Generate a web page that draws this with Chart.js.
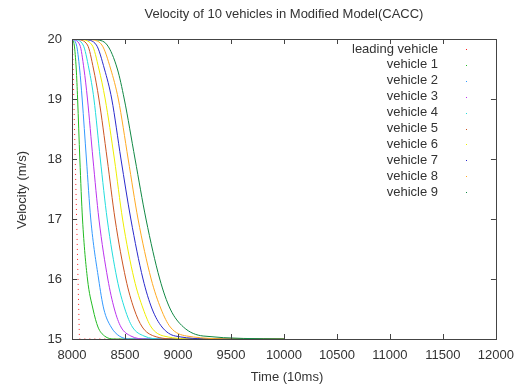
<!DOCTYPE html>
<html lang="en">
<head>
  <meta charset="UTF-8" />
  <title>Velocity of 10 vehicles</title>
  <script src="https://cdn.jsdelivr.net/npm/chart.js"></script>
  <style>
    html, body { margin: 0; padding: 0; background: #fff; }
    #wrap { width: 523px; height: 387px; }
  </style>
</head>
<body>
  <div id="wrap"><canvas id="velChart"></canvas></div>

  <script>
    // velocity levels (m/s) at which each vehicle's time was read
    const speedLevels = [20, 19.9, 19.5, 19, 18, 17, 16, 15.5, 15.2, 15.05, 15];

    // time (10ms) of each vehicle at the levels above
    const v1Time = [8000, 8021, 8040, 8053, 8074, 8099, 8146, 8198, 8245, 8307, 8400];
    const v2Time = [8000, 8042, 8072, 8096, 8136, 8177, 8251, 8300, 8369, 8446, 8550];
    const v3Time = [8000, 8074, 8113, 8146, 8198, 8254, 8338, 8400, 8462, 8555, 8700];
    const v4Time = [8019, 8105, 8160, 8207, 8267, 8332, 8425, 8499, 8570, 8679, 8850];
    const v5Time = [8046, 8146, 8203, 8254, 8332, 8406, 8508, 8586, 8663, 8772, 9000];
    const v6Time = [8074, 8189, 8254, 8313, 8400, 8477, 8586, 8672, 8747, 8865, 9200];
    const v7Time = [8121, 8230, 8306, 8375, 8462, 8555, 8670, 8756, 8849, 8974, 9400];
    const v8Time = [8167, 8282, 8365, 8437, 8530, 8623, 8747, 8840, 8927, 9082, 9600];
    const v9Time = [8214, 8332, 8428, 8493, 8595, 8698, 8828, 8927, 9051, 9237, 10000];

    const leadTime = [8004, 8070];
    const leadSpeed = [20, 15];
    const tailEnd = 10000;

    const xTicks = [8000, 8500, 9000, 9500, 10000, 10500, 11000, 11500, 12000];
    const yTicks = [15, 16, 17, 18, 19, 20];

    const names = ['leading vehicle', 'vehicle 1', 'vehicle 2', 'vehicle 3', 'vehicle 4',
                   'vehicle 5', 'vehicle 6', 'vehicle 7', 'vehicle 8', 'vehicle 9'];
    const colors = ['#ff2020', '#22bb22', '#3399ff', '#bb33ee', '#22dddd',
                    '#cc5522', '#eeee00', '#2a2acc', '#ffaa22', '#118844'];

    const followers = [v1Time, v2Time, v3Time, v4Time, v5Time, v6Time, v7Time, v8Time, v9Time];

    const font = "'Liberation Sans', Arial, sans-serif";

    function toPoints(times, speeds) {
      const pts = times.map((t, i) => ({ x: t, y: speeds[i] }));
      if (times[times.length - 1] < tailEnd) pts.push({ x: tailEnd, y: speeds[speeds.length - 1] });
      return pts;
    }

    const datasets = [{
      label: names[0],
      data: toPoints(leadTime, leadSpeed),
      borderColor: colors[0],
      borderWidth: 1,
      borderDash: [1, 4],
      pointRadius: 0,
      order: 10,
    }];

    followers.forEach((times, i) => {
      datasets.push({
        label: names[i + 1],
        data: toPoints(times, speedLevels),
        borderColor: colors[i + 1],
        borderWidth: 1,
        pointRadius: 0,
        cubicInterpolationMode: 'monotone',
        order: 9 - i,
      });
    });

    // gnuplot-like frame, inward ticks, titles and legend
    const gnuplotLook = {
      id: 'gnuplotLook',
      afterDraw(chart) {
        const ctx = chart.ctx;
        const a = chart.chartArea;
        const xs = chart.scales.x;
        const ys = chart.scales.y;
        ctx.save();

        ctx.strokeStyle = '#444';
        ctx.lineWidth = 1;
        ctx.strokeRect(Math.round(a.left) + 0.5, Math.round(a.top) + 0.5,
                       Math.round(a.right - a.left), Math.round(a.bottom - a.top));

        ctx.beginPath();
        xTicks.forEach(v => {
          const px = Math.round(xs.getPixelForValue(v)) + 0.5;
          ctx.moveTo(px, a.bottom); ctx.lineTo(px, a.bottom - 5);
          ctx.moveTo(px, a.top); ctx.lineTo(px, a.top + 5);
        });
        yTicks.forEach(v => {
          const py = Math.round(ys.getPixelForValue(v)) + 0.5;
          ctx.moveTo(a.left, py); ctx.lineTo(a.left + 5, py);
          ctx.moveTo(a.right, py); ctx.lineTo(a.right - 5, py);
        });
        ctx.stroke();

        ctx.fillStyle = '#333';
        ctx.font = '13px ' + font;
        ctx.textAlign = 'center';
        ctx.textBaseline = 'middle';
        ctx.fillText('Velocity of 10 vehicles in Modified Model(CACC)', 284, 14);
        ctx.fillText('Time (10ms)', 287, 377);

        ctx.save();
        ctx.translate(22, 190);
        ctx.rotate(-Math.PI / 2);
        ctx.fillText('Velocity (m/s)', 0, 0);
        ctx.restore();

        // legend: right-aligned names, one-dot samples
        ctx.textAlign = 'right';
        names.forEach((n, i) => {
          const y = 49 + i * 15.9;
          ctx.fillStyle = '#333';
          ctx.fillText(n, 438, y);
          ctx.fillStyle = colors[i];
          ctx.fillRect(466, Math.round(y), 1, 1);
        });

        ctx.restore();
      }
    };

    new Chart(document.getElementById('velChart'), {
      type: 'line',
      data: { datasets: datasets },
      options: {
        responsive: true,
        maintainAspectRatio: false,
        animation: false,
        layout: { padding: { top: 39, right: 21, left: 0, bottom: 0 } },
        plugins: {
          legend: { display: false },
          title: { display: false },
          tooltip: { enabled: false },
        },
        scales: {
          x: {
            type: 'linear',
            min: 8000,
            max: 12000,
            grid: { display: false, drawTicks: false },
            border: { display: false },
            ticks: {
              stepSize: 500, padding: 9, color: '#333', maxRotation: 0,
              font: { family: font, size: 13 },
              callback: (v) => String(v),
            },
            afterFit: (scale) => { scale.height = 48; },
          },
          y: {
            min: 15,
            max: 20,
            grid: { display: false, drawTicks: false },
            border: { display: false },
            ticks: {
              stepSize: 1, padding: 10, color: '#333',
              font: { family: font, size: 13 },
              callback: (v) => String(v),
            },
            afterFit: (scale) => { scale.width = 72; },
          },
        },
      },
      plugins: [gnuplotLook],
    });
  </script>
</body>
</html>
